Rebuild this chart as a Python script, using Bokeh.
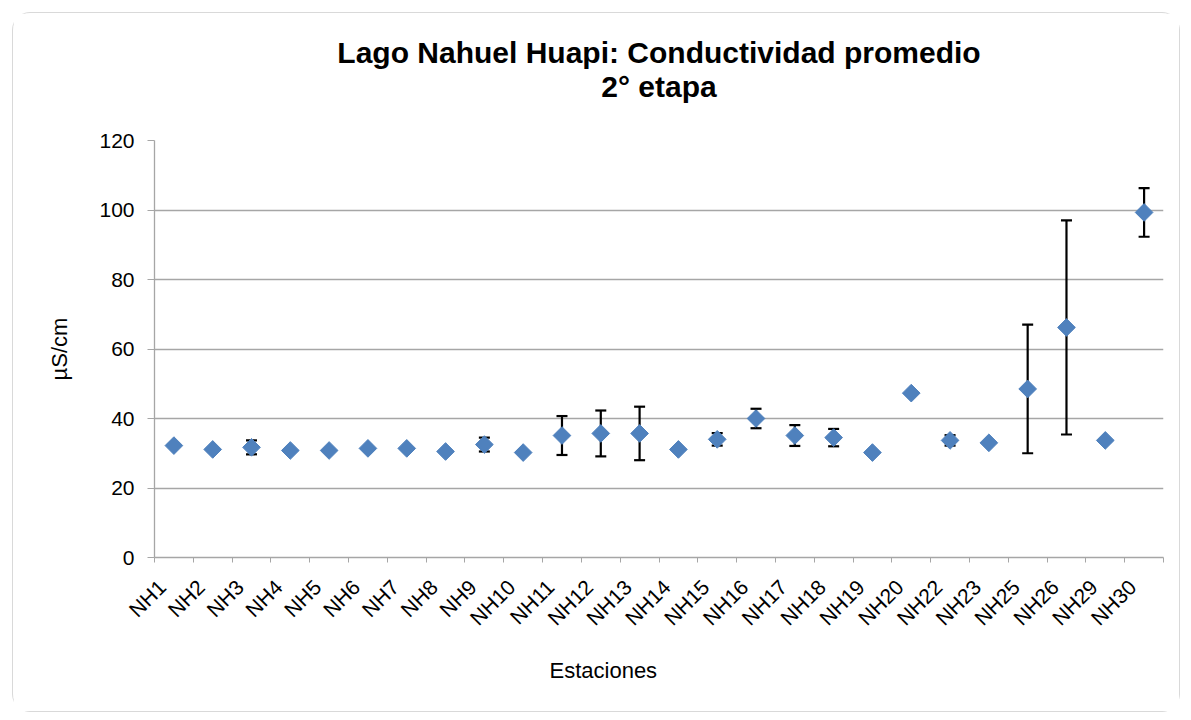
import numpy as np
from bokeh.plotting import figure
from bokeh.models import ColumnDataSource, Range1d, FixedTicker, Whisker, TeeHead, Title
from bokeh.embed import file_html
from bokeh.resources import INLINE

stations = ["NH1", "NH2", "NH3", "NH4", "NH5", "NH6", "NH7", "NH8", "NH9", "NH10",
            "NH11", "NH12", "NH13", "NH14", "NH15", "NH16", "NH17", "NH18", "NH19",
            "NH20", "NH22", "NH23", "NH25", "NH26", "NH29", "NH30"]
conductivity = [32.2, 31.1, 31.7, 30.8, 30.8, 31.4, 31.4, 30.5, 32.5, 30.2,
                35.1, 35.7, 35.7, 31.1, 34.0, 40.0, 35.1, 34.5, 30.2,
                47.3, 33.7, 33.0, 48.5, 66.2, 33.7, 99.3]
std_dev = [0.0, 0.0, 2.0, 0.0, 0.0, 0.0, 0.0, 0.0, 2.0, 0.0,
           5.6, 6.6, 7.7, 0.0, 1.8, 2.8, 3.0, 2.5, 0.0,
           0.0, 1.5, 0.0, 18.5, 30.8, 0.0, 7.0]
y_ticks = [0, 20, 40, 60, 80, 100, 120]
title_lines = ["Lago Nahuel Huapi: Conductividad promedio", "2° etapa"]

FONT = "Liberation Sans"
BLUE = "#4F81BD"
GRAY = "#A6A6A6"

n = len(stations)
xpos = list(range(1, n + 1))
src = ColumnDataSource(dict(x=xpos, y=conductivity, name=stations))

err_x = [x for x, e in zip(xpos, std_dev) if e > 0]
err_lo = [c - e for c, e in zip(conductivity, std_dev) if e > 0]
err_hi = [c + e for c, e in zip(conductivity, std_dev) if e > 0]
err_src = ColumnDataSource(dict(x=err_x, lower=err_lo, upper=err_hi))

p = figure(width=1168, height=700, output_backend="svg", toolbar_location=None,
           title=None,
           x_range=Range1d(0.5, n + 0.5), y_range=Range1d(0, 120),
           min_border_left=141, min_border_right=18, min_border_top=127,
           min_border_bottom=156)
p.margin = (12, 11, 8, 12)
p.styles = {"border": "1px solid #D9D9D9", "border-radius": "18px"}

# titles (second line first: closest to the frame)
t2 = Title(text=title_lines[1], align="center", text_font=FONT, text_font_size="30px",
           text_font_style="bold", text_color="#000000", standoff=76)
t1 = Title(text=title_lines[0], align="center", text_font=FONT, text_font_size="30px",
           text_font_style="bold", text_color="#000000", standoff=-79)
p.add_layout(t2, "above")
p.add_layout(t1, "above")

p.outline_line_color = None
p.background_fill_color = "white"
p.border_fill_color = "white"

# grid
p.xgrid.grid_line_color = None
p.ygrid.grid_line_color = GRAY
p.ygrid.grid_line_width = 1.3

# x axis: labels slightly left of the category centre, ticks at boundaries
label_pos = [x - 0.3 for x in xpos]
xa = p.xaxis[0]
xa.ticker = FixedTicker(ticks=label_pos, minor_ticks=[i + 0.5 for i in range(n + 1)])
xa.major_label_overrides = {x: s for x, s in zip(label_pos, stations)}
xa.major_tick_line_color = None
xa.minor_tick_line_color = GRAY
xa.minor_tick_out = 5
xa.minor_tick_in = 0
xa.axis_line_color = GRAY
xa.axis_line_width = 1.3
xa.major_label_orientation = np.pi / 4
xa.major_label_text_font = FONT
xa.major_label_text_font_size = "21px"
xa.major_label_text_color = "#000000"
xa.major_label_standoff = 20

xtitle = Title(text="Estaciones", align="left", offset=395, vertical_align="top",
               text_font=FONT, text_font_size="22px", text_font_style="normal",
               text_color="#000000", standoff=34)
p.add_layout(xtitle, "below")

# y axis
ya = p.yaxis[0]
ya.ticker = FixedTicker(ticks=y_ticks)
ya.minor_tick_line_color = None
ya.major_tick_out = 7
ya.major_tick_in = 0
ya.major_tick_line_color = GRAY
ya.axis_line_color = GRAY
ya.axis_line_width = 1.3
ya.major_label_text_font = FONT
ya.major_label_text_font_size = "21px"
ya.major_label_text_color = "#000000"
ya.major_label_standoff = 13
ya.axis_label = "µS/cm"
ya.axis_label_text_font = FONT
ya.axis_label_text_font_size = "22px"
ya.axis_label_text_font_style = "normal"
ya.axis_label_text_color = "#000000"
ya.axis_label_standoff = 24

# error bars
wh = Whisker(base="x", lower="lower", upper="upper", source=err_src,
             line_color="black", line_width=2.2, level="underlay",
             upper_head=TeeHead(size=11, line_color="black", line_width=2.2),
             lower_head=TeeHead(size=11, line_color="black", line_width=2.2))
p.add_layout(wh)

p.scatter("x", "y", source=src, marker="square", angle=np.pi / 4, size=12.5,
          fill_color=BLUE, line_color=BLUE, line_width=1)

open("out.html", "w").write(file_html(p, INLINE))
